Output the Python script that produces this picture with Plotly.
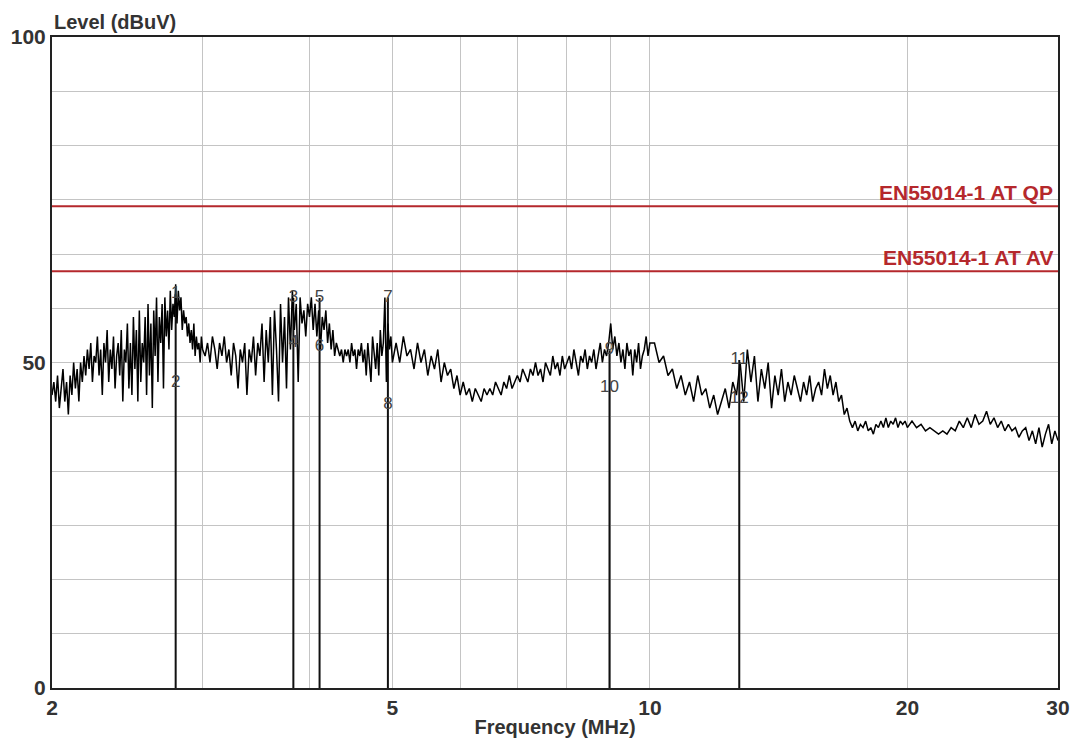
import math
import plotly.graph_objects as go

# sweep, band A: 2.00 - 3.00 MHz
freq_a = [2.00, 2.01, 2.02, 2.03, 2.04, 2.05, 2.06, 2.07, 2.08, 2.09,
          2.10, 2.11, 2.12, 2.13, 2.14, 2.15, 2.16, 2.17, 2.18, 2.19,
          2.20, 2.21, 2.22, 2.23, 2.24, 2.25, 2.26, 2.27, 2.28, 2.29,
          2.30, 2.31, 2.32, 2.33, 2.34, 2.35, 2.36, 2.37, 2.38, 2.39,
          2.40, 2.41, 2.42, 2.43, 2.44, 2.45, 2.46, 2.47, 2.48, 2.49,
          2.50, 2.51, 2.52, 2.53, 2.54, 2.55, 2.56, 2.57, 2.58, 2.59,
          2.60, 2.61, 2.62, 2.63, 2.64, 2.65, 2.66, 2.67, 2.68, 2.69,
          2.70, 2.71, 2.72, 2.73, 2.74, 2.75, 2.76, 2.77, 2.78, 2.79,
          2.80, 2.81, 2.82, 2.83, 2.84, 2.85, 2.86, 2.87, 2.88, 2.89,
          2.90, 2.91, 2.92, 2.93, 2.94, 2.95, 2.96, 2.97, 2.98, 2.99, 3.00]
level_a = [45, 47, 44, 48, 43, 46, 49, 44, 47, 42,
           48, 45, 50, 46, 49, 44, 50, 47, 51, 48,
           52, 49, 53, 47, 51, 50, 54, 48, 52, 45,
           53, 50, 55, 47, 52, 49, 54, 46, 51, 53,
           48, 55, 44, 52, 50, 56, 46, 53, 45, 57,
           49, 55, 44, 58, 47, 53, 50, 57, 45, 59,
           48, 56, 43, 58, 51, 60, 47, 57, 53, 59,
           46, 60, 54, 58, 52, 61, 55, 59, 57, 62,
           56, 61, 58, 60, 55, 58, 56, 57, 54, 56,
           53, 55, 52, 56, 51, 54, 52, 53, 50, 54, 52]

# band B: 3.02 - 5.00 MHz
freq_b = [3.02, 3.04, 3.06, 3.08, 3.10, 3.12, 3.14, 3.16, 3.18, 3.20,
          3.22, 3.24, 3.26, 3.28, 3.30, 3.32, 3.34, 3.36, 3.38, 3.40,
          3.42, 3.44, 3.46, 3.48, 3.50, 3.52, 3.54, 3.56, 3.58, 3.60,
          3.62, 3.64, 3.66, 3.68, 3.70, 3.72, 3.74, 3.76, 3.78, 3.80,
          3.82, 3.84, 3.86, 3.88, 3.90, 3.92, 3.94, 3.96, 3.98, 4.00,
          4.02, 4.04, 4.06, 4.08, 4.10, 4.12, 4.14, 4.16, 4.18, 4.20,
          4.22, 4.24, 4.26, 4.28, 4.30, 4.32, 4.34, 4.36, 4.38, 4.40,
          4.42, 4.44, 4.46, 4.48, 4.50, 4.52, 4.54, 4.56, 4.58, 4.60,
          4.62, 4.64, 4.66, 4.68, 4.70, 4.72, 4.74, 4.76, 4.78, 4.80,
          4.82, 4.84, 4.86, 4.88, 4.90, 4.92, 4.94, 4.96, 4.98, 5.00]
level_b = [51, 53, 50, 54, 52, 49, 53, 51, 54, 50,
           52, 48, 53, 51, 46, 52, 50, 53, 45, 52,
           50, 54, 48, 53, 51, 56, 47, 55, 50, 57,
           45, 58, 52, 44, 59, 50, 57, 46, 60, 52,
           61, 55, 59, 47, 60, 56, 58, 54, 59, 57,
           60, 55, 59, 54, 58, 52, 57, 55, 58, 53,
           56, 52, 55, 51, 53, 52, 51, 52, 50, 52,
           51, 52, 50, 53, 51, 52, 49, 52, 51, 53,
           50, 52, 48, 53, 50, 47, 54, 51, 49, 53,
           48, 55, 51, 53, 60, 47, 56, 52, 54, 50]

# band C: 5.05 - 10.00 MHz
freq_c = [5.05, 5.10, 5.15, 5.20, 5.25, 5.30, 5.35, 5.40, 5.45, 5.50,
          5.55, 5.60, 5.65, 5.70, 5.75, 5.80, 5.85, 5.90, 5.95, 6.00,
          6.05, 6.10, 6.15, 6.20, 6.25, 6.30, 6.35, 6.40, 6.45, 6.50,
          6.55, 6.60, 6.65, 6.70, 6.75, 6.80, 6.85, 6.90, 6.95, 7.00,
          7.05, 7.10, 7.15, 7.20, 7.25, 7.30, 7.35, 7.40, 7.45, 7.50,
          7.55, 7.60, 7.65, 7.70, 7.75, 7.80, 7.85, 7.90, 7.95, 8.00,
          8.05, 8.10, 8.15, 8.20, 8.25, 8.30, 8.35, 8.40, 8.45, 8.50,
          8.55, 8.60, 8.65, 8.70, 8.75, 8.80, 8.85, 8.90, 8.95, 9.00,
          9.05, 9.10, 9.15, 9.20, 9.25, 9.30, 9.35, 9.40, 9.45, 9.50,
          9.55, 9.60, 9.65, 9.70, 9.75, 9.80, 9.85, 9.90, 9.95, 10.00]
level_c = [53, 50, 54, 51, 52, 49, 53, 50, 52, 48,
           51, 49, 52, 47, 50, 48, 49, 46, 48, 45,
           47, 45, 46, 44, 46, 45, 44, 46, 45, 46,
           45, 47, 46, 45, 47, 46, 48, 46, 47, 48,
           47, 49, 48, 47, 49, 48, 50, 48, 49, 47,
           50, 49, 48, 51, 49, 50, 48, 51, 49, 50,
           51, 49, 52, 50, 48, 51, 50, 52, 49, 51,
           50, 52, 49, 51, 53, 50, 52, 51, 53, 56,
           52, 54, 51, 53, 50, 52, 49, 53, 51, 52,
           48, 52, 50, 53, 49, 51, 52, 54, 51, 53]

# band D: 10.125 - 20.0 MHz
freq_d = [10.125, 10.25, 10.375, 10.5, 10.625, 10.75, 10.875, 11.0, 11.125, 11.25,
          11.375, 11.5, 11.625, 11.75, 11.875, 12.0, 12.125, 12.25, 12.375, 12.5,
          12.625, 12.75, 12.875, 13.0, 13.125, 13.25, 13.375, 13.5, 13.625, 13.75,
          13.875, 14.0, 14.125, 14.25, 14.375, 14.5, 14.625, 14.75, 14.875, 15.0,
          15.125, 15.25, 15.375, 15.5, 15.625, 15.75, 15.875, 16.0, 16.125, 16.25,
          16.375, 16.5, 16.625, 16.75, 16.875, 17.0, 17.125, 17.25, 17.375, 17.5,
          17.625, 17.75, 17.875, 18.0, 18.125, 18.25, 18.375, 18.5, 18.625, 18.75,
          18.875, 19.0, 19.125, 19.25, 19.375, 19.5, 19.625, 19.75, 19.875, 20.0]
level_d = [53, 50, 51, 48, 49, 46, 48, 45, 47, 44,
           48, 45, 46, 43, 45, 42, 44, 46, 43, 47,
           45, 50, 44, 52, 47, 51, 44, 49, 46, 50,
           43, 48, 45, 49, 44, 47, 45, 48, 46, 44,
           47, 45, 48, 44, 46, 47, 45, 49, 46, 48,
           45, 47, 44, 45, 42, 43, 41, 40, 41, 39.5,
           40.5, 40, 41, 39.5, 40, 39, 40.5, 40, 41, 40,
           41.5, 40, 41, 40.5, 41.5, 40, 41, 40.5, 41, 40]

# band E: 20.25 - 30 MHz
freq_e = [20.25, 20.5, 20.75, 21.0, 21.25, 21.5, 21.75, 22.0, 22.25, 22.5,
          22.75, 23.0, 23.25, 23.5, 23.75, 24.0, 24.25, 24.5, 24.75, 25.0,
          25.25, 25.5, 25.75, 26.0, 26.25, 26.5, 26.75, 27.0, 27.25, 27.5,
          27.75, 28.0, 28.25, 28.5, 28.75, 29.0, 29.25, 29.5, 29.75, 30.0]
level_e = [41, 40, 40.5, 39.5, 40, 39.5, 39, 39.5, 39, 40,
           39.5, 41, 40, 41.5, 40, 42, 40.5, 41, 42.5, 40.5,
           41.5, 40, 41, 39.5, 40.5, 39.5, 40, 38.5, 39.5, 40,
           38, 39.5, 37.5, 40, 37, 39, 40.5, 37.5, 39.5, 38]

# limits
limit_names = ["EN55014-1 AT QP", "EN55014-1 AT AV"]
limit_levels = [74, 64]

# markers (odd = QP reading, even = AV reading)
marker_freq = [2.79, 3.83, 4.11, 4.94, 8.97, 12.72]
marker_qp = [60.5, 59.9, 59.9, 60.0, 51.9, 50.4]
marker_av = [46.9, 53.0, 52.4, 43.5, 46.1, 44.5]
marker_qp_labels = ["1", "3", "5", "7", "9", "11"]
marker_av_labels = ["2", "4", "6", "8", "10", "12"]

# axis ticks
x_tickvals = [2, 3, 4, 5, 6, 7, 8, 9, 10, 20, 30]
x_ticktext = ["2", "", "", "5", "", "", "", "", "10", "20", "30"]
y_tickvals = [i * 100 / 12 for i in range(13)]
y_ticktext = ["0", "", "", "", "", "", "50", "", "", "", "", "", "100"]

freq = freq_a + freq_b + freq_c + freq_d + freq_e
level = level_a + level_b + level_c + level_d + level_e

font_main = "Liberation Sans, Arial, sans-serif"
limit_color = "#b5282c"
text_color = "#333333"

fig = go.Figure()

for name, lv in zip(limit_names, limit_levels):
    fig.add_trace(go.Scatter(x=[2, 30], y=[lv, lv], mode="lines",
                             line=dict(color=limit_color, width=2),
                             showlegend=False, hoverinfo="skip"))
    fig.add_annotation(x=1, xref="paper", y=lv, yref="y", text="<b>" + name + "</b>",
                       showarrow=False, xanchor="right", yanchor="bottom", yshift=0, xshift=-3,
                       font=dict(family=font_main, size=21, color=limit_color))

# marker stems
stem_x, stem_y = [], []
for f, q in zip(marker_freq, marker_qp):
    stem_x += [f, f, None]
    stem_y += [0, q, None]
fig.add_trace(go.Scatter(x=stem_x, y=stem_y, mode="lines",
                         line=dict(color="#111111", width=2),
                         showlegend=False, hoverinfo="skip"))

fig.add_trace(go.Scatter(x=freq, y=level, mode="lines",
                         line=dict(color="black", width=1.5),
                         name="Level", showlegend=False))

fig.add_trace(go.Scatter(x=marker_freq + marker_freq, y=marker_qp + marker_av,
                         mode="text", text=marker_qp_labels + marker_av_labels,
                         textfont=dict(family=font_main, size=17, color="#444444"),
                         showlegend=False, hoverinfo="skip"))

fig.update_xaxes(type="log", range=[math.log10(2), math.log10(30)],
                 tickvals=x_tickvals, ticktext=["<b>" + t + "</b>" if t else "" for t in x_ticktext],
                 showgrid=True, gridcolor="#c4c4c4", gridwidth=1,
                 showline=True, linecolor="#222222", linewidth=2, mirror=True,
                 ticks="", tickfont=dict(family=font_main, size=21, color=text_color),
                 title=dict(text="<b>Frequency (MHz)</b>", standoff=2,
                            font=dict(family=font_main, size=20, color=text_color)),
                 zeroline=False, automargin=False)
fig.update_yaxes(range=[0, 100], tickvals=y_tickvals,
                 ticktext=["<b>" + t + "</b>" if t else "" for t in y_ticktext],
                 showgrid=True, gridcolor="#c4c4c4", gridwidth=1,
                 showline=True, linecolor="#222222", linewidth=2, mirror=True,
                 ticks="", tickfont=dict(family=font_main, size=21, color=text_color),
                 zeroline=False, automargin=False)

fig.add_annotation(x=0, xref="paper", y=1, yref="paper", text="<b>Level (dBuV)</b>",
                   showarrow=False, xanchor="left", yanchor="bottom", yshift=2,
                   font=dict(family=font_main, size=20, color=text_color))

fig.update_layout(width=1075, height=744,
                  margin=dict(l=52, r=17, t=37, b=56),
                  plot_bgcolor="white", paper_bgcolor="white",
                  font=dict(family=font_main, color=text_color))

# drop the default page margin so the figure fills the window exactly
fig.write_html("out.html", config={"displayModeBar": False},
               post_script="document.body.style.margin='0';")
